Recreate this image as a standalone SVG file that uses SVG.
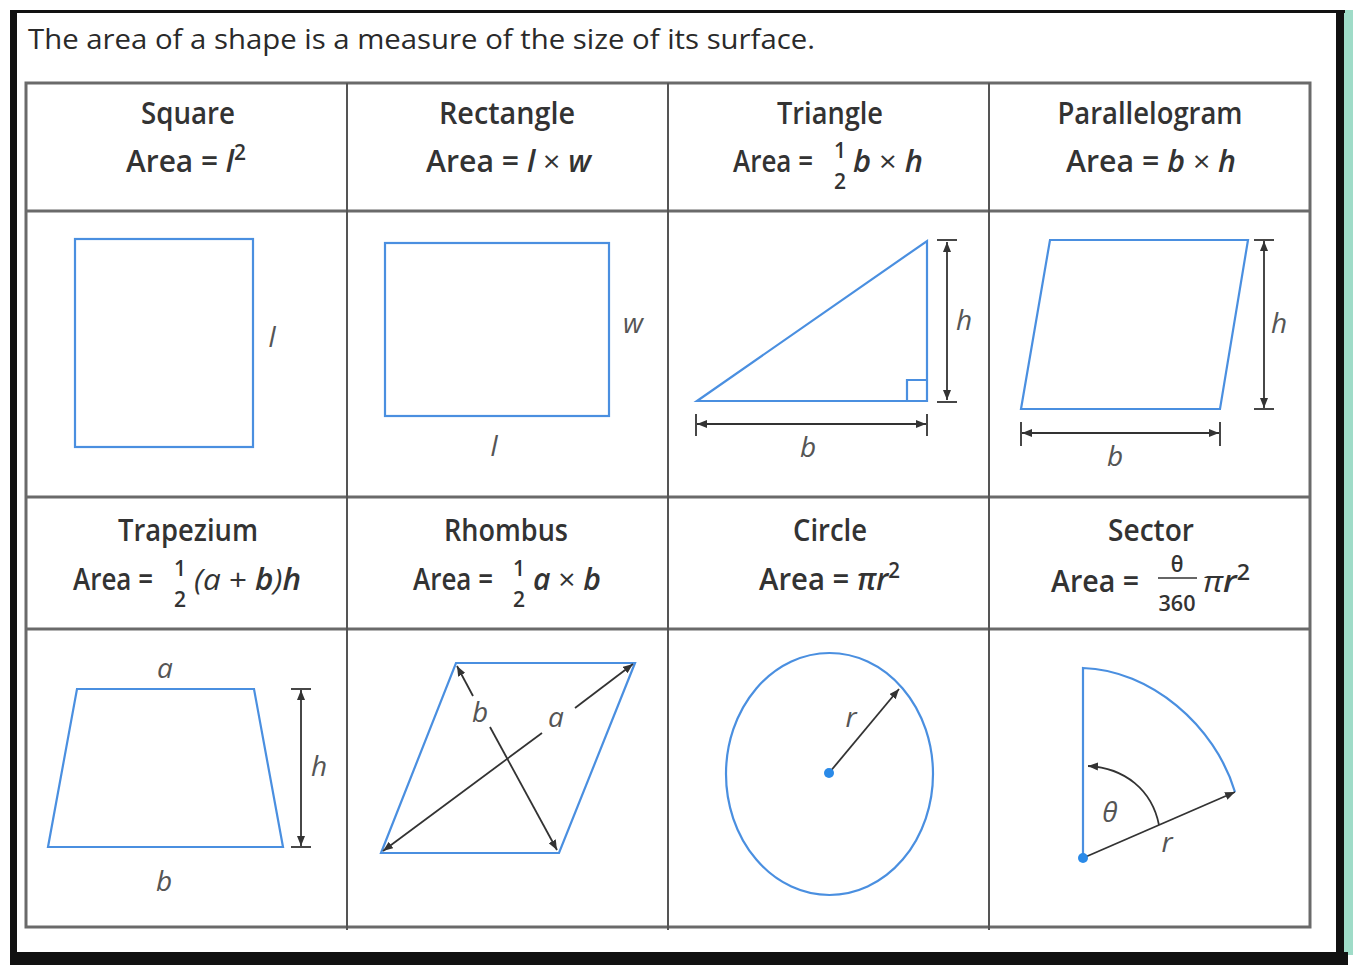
<svg xmlns="http://www.w3.org/2000/svg" width="1357" height="965" viewBox="0 0 1357 965">
<style>
.t{font-family:"Open Sans","Liberation Sans",sans-serif;font-size:30px;font-weight:600;fill:#333}
.hd{font-family:"Open Sans","Liberation Sans",sans-serif;font-size:27px;font-weight:400;fill:#2a2a2a}
.i{font-style:italic}
.n{font-weight:400}
.sup{font-size:21px;font-style:normal}
.sm{font-family:"Open Sans","Liberation Sans",sans-serif;font-size:21px;font-weight:600;fill:#333}
.lbl{font-family:"Open Sans","Liberation Sans",sans-serif;font-size:28px;font-style:italic;fill:#555;text-anchor:middle}
.grid{stroke:#555;stroke-width:2;fill:none}
.hgrid{stroke:#6a6a6a;stroke-width:3;fill:none}
.shape{stroke:#4a8fe0;stroke-width:2.2;fill:none;stroke-linejoin:miter}
.dim{stroke:#333;stroke-width:1.8;fill:none}
</style>
<defs>
<marker id="arr" viewBox="0 0 10 8" refX="10" refY="4" markerWidth="10" markerHeight="8" markerUnits="userSpaceOnUse" orient="auto-start-reverse">
<path d="M0,0 L10,4 L0,8 z" fill="#333"/>
</marker>
</defs>
<rect width="1357" height="965" fill="#fff"/>
<g id="frame">
<rect x="1344" y="10" width="9" height="945" fill="#9fdcc8"/>
<rect x="10" y="10" width="1335" height="3" fill="#111"/>
<rect x="10" y="10" width="7" height="955" fill="#111"/>
<rect x="1336" y="10" width="8" height="955" fill="#111"/>
<rect x="10" y="952" width="1338" height="13" fill="#111"/>
</g>
<text class="hd" x="28" y="49" textLength="787" lengthAdjust="spacingAndGlyphs">The area of a shape is a measure of the size of its surface.</text>
<g id="grid">
<rect class="hgrid" x="26" y="83" width="1284" height="844"/>
<line class="hgrid" x1="26" y1="211" x2="1310" y2="211"/>
<line class="hgrid" x1="26" y1="497" x2="1310" y2="497"/>
<line class="hgrid" x1="26" y1="629" x2="1310" y2="629"/>
<line class="grid" x1="347" y1="83" x2="347" y2="930"/>
<line class="grid" x1="668" y1="83" x2="668" y2="930"/>
<line class="grid" x1="989" y1="83" x2="989" y2="930"/>
</g>

<g id="square">
<text class="t" x="188" y="124" text-anchor="middle" textLength="94" lengthAdjust="spacingAndGlyphs">Square</text>
<text class="t" x="126" y="172" textLength="120" lengthAdjust="spacingAndGlyphs">Area = <tspan class="i">l</tspan><tspan class="sup" dy="-12">2</tspan></text>
<rect class="shape" x="75" y="239" width="178" height="208"/>
<text class="lbl" x="272" y="347">l</text>
</g>

<g id="rectangle">
<text class="t" x="507" y="124" text-anchor="middle" textLength="136" lengthAdjust="spacingAndGlyphs">Rectangle</text>
<text class="t" x="426" y="172" textLength="165" lengthAdjust="spacingAndGlyphs">Area = <tspan class="i">l</tspan><tspan class="n"> × </tspan><tspan class="i">w</tspan></text>
<rect class="shape" x="385" y="243" width="224" height="173"/>
<text class="lbl" x="633" y="333">w</text>
<text class="lbl" x="494" y="456">l</text>
</g>

<g id="triangle">
<text class="t" x="830" y="124" text-anchor="middle" textLength="106" lengthAdjust="spacingAndGlyphs">Triangle</text>
<text class="t" x="733" y="172" textLength="80" lengthAdjust="spacingAndGlyphs">Area =</text>
<text class="sm" x="840" y="158" text-anchor="middle">1</text>
<text class="sm" x="840" y="189" text-anchor="middle">2</text>
<text class="t" x="853" y="172" textLength="70" lengthAdjust="spacingAndGlyphs"><tspan class="i">b</tspan><tspan class="n"> × </tspan><tspan class="i">h</tspan></text>
<path class="shape" d="M697,401 L927,241 L927,401 Z"/>
<path class="shape" d="M907,401 V380 H927" stroke-width="1.6"/>
<line class="dim" x1="947" y1="242" x2="947" y2="400" marker-start="url(#arr)" marker-end="url(#arr)"/>
<line class="dim" x1="937" y1="240" x2="957" y2="240"/>
<line class="dim" x1="937" y1="402" x2="957" y2="402"/>
<line class="dim" x1="697" y1="424" x2="926" y2="424" marker-start="url(#arr)" marker-end="url(#arr)"/>
<line class="dim" x1="696" y1="414" x2="696" y2="436"/>
<line class="dim" x1="927" y1="414" x2="927" y2="436"/>
<text class="lbl" x="964" y="330">h</text>
<text class="lbl" x="808" y="457">b</text>
</g>

<g id="parallelogram">
<text class="t" x="1150" y="124" text-anchor="middle" textLength="185" lengthAdjust="spacingAndGlyphs">Parallelogram</text>
<text class="t" x="1066" y="172" textLength="170" lengthAdjust="spacingAndGlyphs">Area = <tspan class="i">b</tspan><tspan class="n"> × </tspan><tspan class="i">h</tspan></text>
<path class="shape" d="M1050,240 L1248,240 L1220,409 L1021,409 Z"/>
<line class="dim" x1="1264" y1="241" x2="1264" y2="408" marker-start="url(#arr)" marker-end="url(#arr)"/>
<line class="dim" x1="1254" y1="240" x2="1274" y2="240"/>
<line class="dim" x1="1254" y1="409" x2="1274" y2="409"/>
<line class="dim" x1="1022" y1="433" x2="1219" y2="433" marker-start="url(#arr)" marker-end="url(#arr)"/>
<line class="dim" x1="1021" y1="422" x2="1021" y2="446"/>
<line class="dim" x1="1220" y1="422" x2="1220" y2="446"/>
<text class="lbl" x="1279" y="333">h</text>
<text class="lbl" x="1115" y="466">b</text>
</g>

<g id="trapezium">
<text class="t" x="188" y="541" text-anchor="middle" textLength="140" lengthAdjust="spacingAndGlyphs">Trapezium</text>
<text class="t" x="73" y="590" textLength="80" lengthAdjust="spacingAndGlyphs">Area =</text>
<text class="sm" x="180" y="576" text-anchor="middle">1</text>
<text class="sm" x="180" y="607" text-anchor="middle">2</text>
<text class="t" x="194" y="590" textLength="107" lengthAdjust="spacingAndGlyphs"><tspan class="i n">(a</tspan><tspan class="n"> + </tspan><tspan class="i">b</tspan><tspan class="i n">)</tspan><tspan class="i">h</tspan></text>
<path class="shape" d="M77,689 L254,689 L283,847 L48,847 Z"/>
<line class="dim" x1="301" y1="690" x2="301" y2="846" marker-start="url(#arr)" marker-end="url(#arr)"/>
<line class="dim" x1="291" y1="689" x2="311" y2="689"/>
<line class="dim" x1="291" y1="847" x2="311" y2="847"/>
<text class="lbl" x="165" y="678">a</text>
<text class="lbl" x="164" y="891">b</text>
<text class="lbl" x="319" y="776">h</text>
</g>

<g id="rhombus">
<text class="t" x="506" y="541" text-anchor="middle" textLength="124" lengthAdjust="spacingAndGlyphs">Rhombus</text>
<text class="t" x="413" y="590" textLength="80" lengthAdjust="spacingAndGlyphs">Area =</text>
<text class="sm" x="519" y="576" text-anchor="middle">1</text>
<text class="sm" x="519" y="607" text-anchor="middle">2</text>
<text class="t" x="533" y="590" textLength="68" lengthAdjust="spacingAndGlyphs"><tspan class="i">a</tspan><tspan class="n"> × </tspan><tspan class="i">b</tspan></text>
<path class="shape" d="M456,663 L635,663 L559,853 L381,853 Z"/>
<line class="dim" x1="542" y1="733" x2="383" y2="851" marker-end="url(#arr)"/>
<line class="dim" x1="575" y1="708" x2="633" y2="664" marker-end="url(#arr)"/>
<line class="dim" x1="473" y1="696" x2="457" y2="666" marker-end="url(#arr)"/>
<line class="dim" x1="490" y1="727" x2="557" y2="850" marker-end="url(#arr)"/>
<text class="lbl" x="480" y="722">b</text>
<text class="lbl" x="556" y="727">a</text>
</g>

<g id="circle">
<text class="t" x="830" y="541" text-anchor="middle" textLength="74" lengthAdjust="spacingAndGlyphs">Circle</text>
<text class="t" x="759" y="590" textLength="141" lengthAdjust="spacingAndGlyphs">Area = <tspan class="i">πr</tspan><tspan class="sup" dy="-12">2</tspan></text>
<ellipse class="shape" cx="829.5" cy="774" rx="103.5" ry="121"/>
<line class="dim" x1="829" y1="773" x2="899" y2="689" marker-end="url(#arr)"/>
<circle cx="829" cy="773" r="5" fill="#2a8ae8"/>
<text class="lbl" x="851" y="727">r</text>
</g>

<g id="sector">
<text class="t" x="1151" y="541" text-anchor="middle" textLength="86" lengthAdjust="spacingAndGlyphs">Sector</text>
<text class="t" x="1051" y="592" textLength="88" lengthAdjust="spacingAndGlyphs">Area =</text>
<text class="sm" x="1177" y="572" text-anchor="middle" font-size="18">θ</text>
<line x1="1158" y1="578" x2="1197" y2="578" stroke="#333" stroke-width="1.5"/>
<text class="sm" x="1177" y="611" text-anchor="middle" textLength="37" lengthAdjust="spacingAndGlyphs">360</text>
<text class="t" x="1203" y="592" textLength="47" lengthAdjust="spacingAndGlyphs"><tspan class="i n">π</tspan><tspan class="i">r</tspan><tspan class="sup" dy="-12">2</tspan></text>
<path class="shape" d="M1083,858 V668 C1150,670 1215,725 1235,792"/>
<line class="dim" x1="1083" y1="858" x2="1235" y2="792" marker-end="url(#arr)"/>
<path class="dim" d="M1159,825 C1152,790 1125,768 1088,766" marker-end="url(#arr)"/>
<circle cx="1083" cy="858" r="5" fill="#2a8ae8"/>
<text class="lbl" x="1110" y="822" font-size="26">θ</text>
<text class="lbl" x="1167" y="852">r</text>
</g>
</svg>
